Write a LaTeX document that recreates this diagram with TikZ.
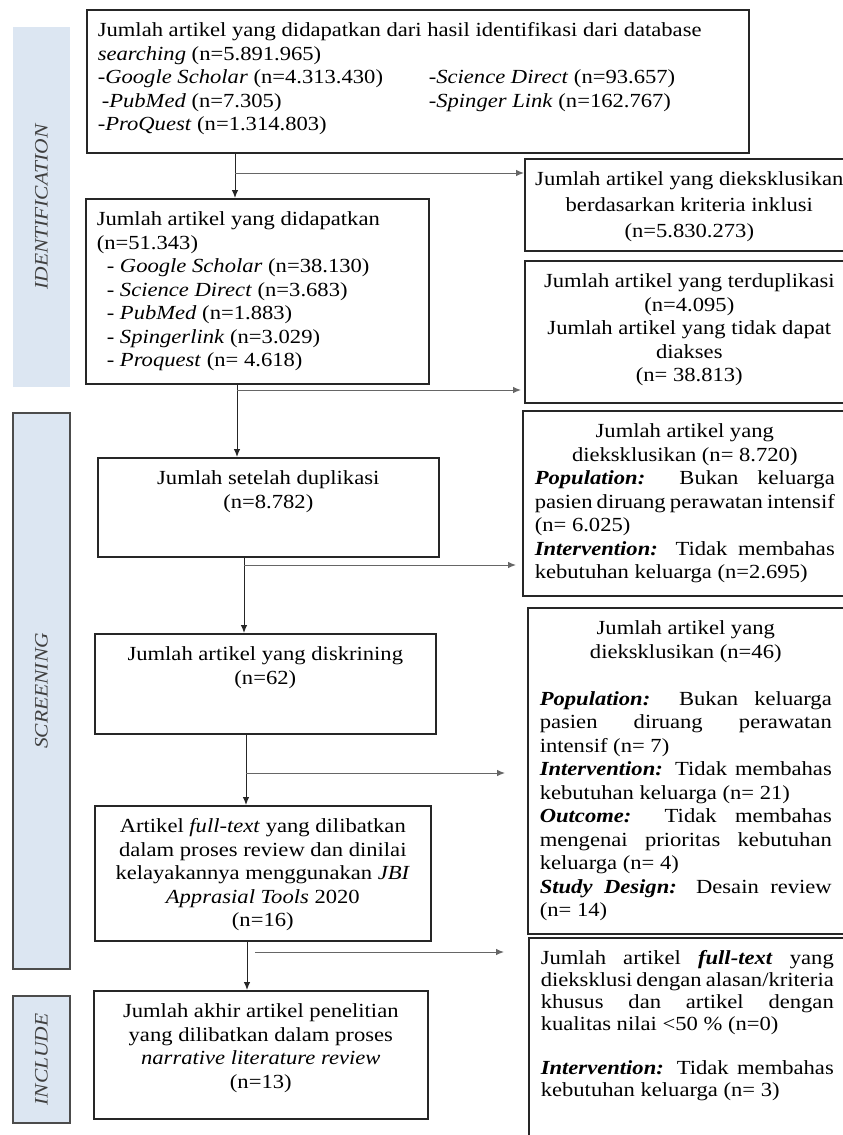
\documentclass[tikz,border=0pt]{standalone}
\usepackage{fontspec}
\setmainfont{Liberation Serif}[FakeStretch=1.13]
\usetikzlibrary{arrows.meta}

\definecolor{bandblue}{HTML}{DCE6F2}
\newcommand{\boxfont}{\fontsize{20}{23.5}\selectfont}
\newcommand{\jline}[1]{\makebox[\linewidth][s]{#1}}
\newcommand{\bitext}[1]{\textbf{\textit{#1}}}
\newcommand{\inbox}[3]{\parbox[c][#2][t]{#1}{#3}}

\tikzset{
  box/.style={draw=black!85, line width=1.6pt, inner xsep=11pt, inner ysep=13pt,
    anchor=north west, font=\boxfont},
  rbox/.style={box, inner xsep=12pt},
  band/.style={fill=bandblue, rotate=90, inner sep=0pt, minimum height=57pt,
    font=\fontsize{19}{22}\selectfont\itshape, text=black!75},
  bandline/.style={band, draw=black!70, line width=1.6pt},
  arr/.style={-{Latex[length=8pt,width=6.5pt]}, line width=1pt, draw=black!85},
  branch/.style={arr, draw=black!60}
}

\begin{document}
\begin{tikzpicture}[x=1pt,y=-1pt]
\useasboundingbox (0,0) rectangle (843,1135);
\clip (0,0) rectangle (843,1135);

% phase bands
\node[band, minimum width=360pt] (idband) at (41.5,207) {IDENTIFICATION};
\node[bandline, minimum width=556pt] (scrband) at (41.5,691) {SCREENING};
\node[bandline, minimum width=127pt] (incband) at (41.5,1059.5) {INCLUDE};

% main column
\node[box] (B1) at (86,9) {\inbox{640pt}{117pt}{\raggedright
  Jumlah artikel yang didapatkan dari hasil identifikasi dari database\\
  \textit{searching} (n=5.891.965)\\
  \makebox[331pt][l]{-\textit{Google Scholar} (n=4.313.430)}-\textit{Science Direct} (n=93.657)\\
  \makebox[331pt][l]{\hspace*{4pt}-\textit{PubMed} (n=7.305)}-\textit{Spinger Link} (n=162.767)\\
  -\textit{ProQuest} (n=1.314.803)}};
\node[box] (B2) at (85,198) {\inbox{321pt}{159pt}{\raggedright
  Jumlah artikel yang didapatkan\\
  (n=51.343)\\
  \hspace*{10pt}- \textit{Google Scholar} (n=38.130)\\
  \hspace*{10pt}- \textit{Science Direct} (n=3.683)\\
  \hspace*{10pt}- \textit{PubMed} (n=1.883)\\
  \hspace*{10pt}- \textit{Spingerlink} (n=3.029)\\
  \hspace*{10pt}- \textit{Proquest} (n= 4.618)}};
\node[box] (B3) at (97,457) {\inbox{319pt}{73pt}{\centering
  Jumlah setelah duplikasi\\ (n=8.782)}};
\node[box] (B4) at (94,633) {\inbox{319pt}{74pt}{\centering
  Jumlah artikel yang diskrining\\ (n=62)}};
\node[box] (B5) at (94,805) {\inbox{314pt}{109pt}{\centering
  Artikel \textit{full-text} yang dilibatkan\\
  dalam proses review dan dinilai\\
  kelayakannya menggunakan \textit{JBI}\\
  \textit{Apprasial Tools} 2020\\
  (n=16)}};
\node[box] (B6) at (93,990) {\inbox{312pt}{102pt}{\centering
  Jumlah akhir artikel penelitian\\
  yang dilibatkan dalam proses\\
  \textit{narrative literature review}\\
  (n=13)}};

% exclusion column
\node[rbox, font=\fontsize{20}{26}\selectfont] (R1) at (524,158) {\inbox{305pt}{66pt}{\centering
  \makebox[\linewidth]{Jumlah artikel yang dieksklusikan}\\
  berdasarkan kriteria inklusi\\
  (n=5.830.273)}};
\node[rbox] (R2) at (524,260) {\inbox{305pt}{116pt}{\centering
  Jumlah artikel yang terduplikasi\\
  (n=4.095)\\
  Jumlah artikel yang tidak dapat\\
  diakses\\
  (n= 38.813)}};
\node[rbox] (R3) at (522,410) {\inbox{300pt}{159pt}{%
  {\centering Jumlah artikel yang\\ dieksklusikan (n= 8.720)\par}
  \jline{\bitext{Population:} Bukan keluarga}\\
  \jline{pasien diruang perawatan intensif}\\
  (n= 6.025)\\
  \jline{\bitext{Intervention:} Tidak membahas}\\
  kebutuhan keluarga (n=2.695)}};
\node[rbox] (R4) at (527,607) {\inbox{292pt}{300pt}{%
  {\centering Jumlah artikel yang\\ dieksklusikan (n=46)\par}
  \vspace{23.5pt}
  \jline{\bitext{Population:} Bukan keluarga}\\
  \jline{pasien diruang perawatan}\\
  intensif (n= 7)\\
  \jline{\bitext{Intervention:} Tidak membahas}\\
  kebutuhan keluarga (n= 21)\\
  \jline{\bitext{Outcome:} Tidak membahas}\\
  \jline{mengenai prioritas kebutuhan}\\
  keluarga (n= 4)\\
  \jline{\bitext{Study Design:} Desain review}\\
  (n= 14)}};
\node[rbox, font=\fontsize{20}{22}\selectfont] (R5) at (528,937) {\inbox{293pt}{197pt}{%
  \jline{Jumlah artikel \bitext{full-text} yang}\\
  \jline{dieksklusi dengan alasan/kriteria}\\
  \jline{khusus dan artikel dengan}\\
  kualitas nilai <50 \% (n=0)\\[22pt]
  \jline{\bitext{Intervention:} Tidak membahas}\\
  kebutuhan keluarga (n= 3)}};

% connectors
\coordinate (j1) at (235,173);
\coordinate (j2) at (237,390);
\coordinate (j3) at (244,565);
\coordinate (j4) at (246,773);
\coordinate (j5) at (247,952);
\draw[arr] (B1.south -| j1) -- (B2.north -| j1);
\draw[branch] (j1) -- (j1 -| R1.west);
\draw[arr] (B2.south -| j2) -- (B3.north -| j2);
\draw[branch, shorten >=3pt] (j2) -- (j2 -| R2.west);
\draw[arr] (B3.south -| j3) -- (B4.north -| j3);
\draw[branch, shorten >=6pt] (j3) -- (j3 -| R3.west);
\draw[arr] (B4.south -| j4) -- (B5.north -| j4);
\draw[branch, shorten >=22pt] (j4) -- (j4 -| R4.west);
\draw[arr] (B5.south -| j5) -- (B6.north -| j5);
\draw[branch, shorten >=24pt] ([xshift=8pt]j5) -- (j5 -| R5.west);
\end{tikzpicture}
\end{document}
